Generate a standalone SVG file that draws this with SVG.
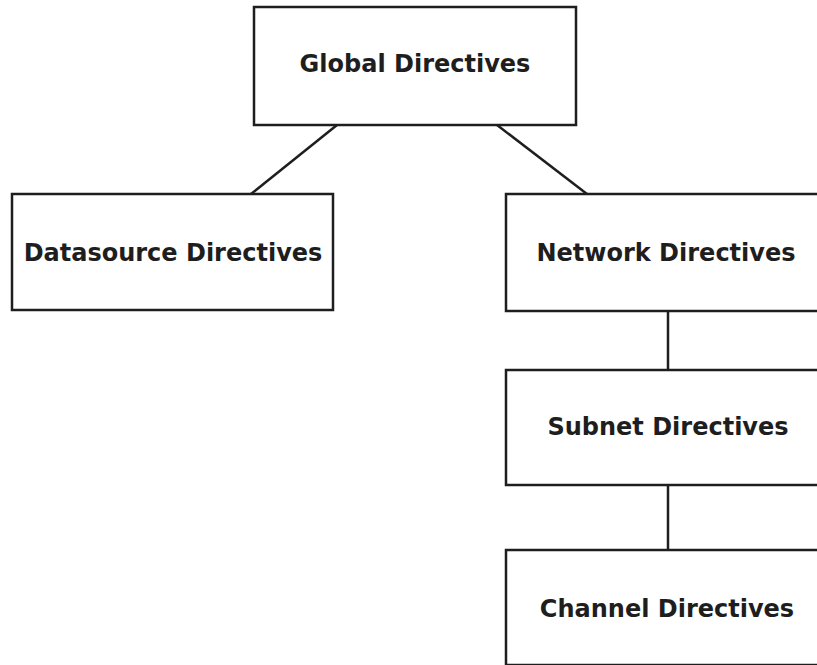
<svg xmlns="http://www.w3.org/2000/svg" width="817" height="665" viewBox="0 0 817 665">
  <style>
    .box { fill: #ffffff; stroke: #1e1e1e; stroke-width: 2.5; }
    .label { font-family: "DejaVu Sans", "Liberation Sans", sans-serif; font-weight: bold; font-size: 24px; fill: #1e1e1e; text-anchor: middle; }
    .link { stroke: #1e1e1e; stroke-width: 2.5; fill: none; }
  </style>
  <rect width="817" height="665" fill="#ffffff"/>

  <!-- hierarchy links -->
  <g id="connectors">
    <line class="link" x1="337" y1="125" x2="251" y2="194"/>
    <line class="link" x1="497" y1="125" x2="587" y2="194"/>
    <line class="link" x1="668" y1="311" x2="668" y2="370"/>
    <line class="link" x1="668" y1="485" x2="668" y2="550"/>
  </g>

  <g id="global">
    <rect class="box" x="254" y="7" width="322" height="118"/>
    <text class="label" x="415" y="72">Global Directives</text>
  </g>

  <g id="datasource">
    <rect class="box" x="12" y="194" width="321" height="116"/>
    <text class="label" x="173" y="261">Datasource Directives</text>
  </g>

  <g id="network">
    <rect class="box" x="506" y="194" width="322" height="117"/>
    <text class="label" x="666" y="261">Network Directives</text>
  </g>

  <g id="subnet">
    <rect class="box" x="506" y="370" width="322" height="115"/>
    <text class="label" x="668" y="435">Subnet Directives</text>
  </g>

  <g id="channel">
    <rect class="box" x="506" y="550" width="322" height="115"/>
    <text class="label" x="667" y="617">Channel Directives</text>
  </g>
</svg>
